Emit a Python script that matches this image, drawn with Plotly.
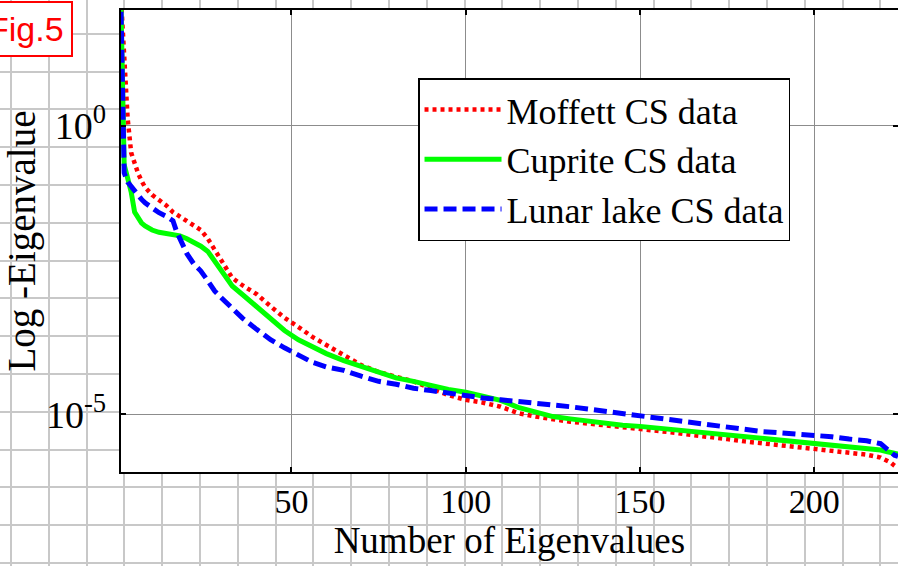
import plotly.graph_objects as go

# ---- data (y values given as log10 of eigenvalue) ----
eig_index = [1, 2, 3, 4, 5, 6, 7, 8, 10, 12, 14, 16, 17, 18, 20, 22, 24, 26, 28, 30,
             33, 36, 40, 44, 48, 52, 56, 60, 65, 70, 75, 80, 85, 90, 95, 100,
             105, 110, 115, 120, 125, 130, 135, 140, 145, 150, 155, 160, 165, 170,
             175, 180, 185, 190, 195, 200, 205, 210, 215, 219, 221, 222, 223, 224]

moffett_log10 = [2.3, 1.0, 0.12, -0.47, -0.66, -0.83, -0.96, -1.07, -1.20, -1.29, -1.38, -1.50, -1.54, -1.58,
                 -1.65, -1.72, -1.81, -1.96, -2.16, -2.36, -2.64, -2.77, -2.92, -3.13, -3.33, -3.49,
                 -3.66, -3.80, -3.98, -4.15, -4.27, -4.35, -4.43, -4.55, -4.67, -4.75,
                 -4.80, -4.87, -4.98, -5.04, -5.09, -5.13, -5.16, -5.19, -5.22, -5.25, -5.28,
                 -5.32, -5.36, -5.39, -5.43, -5.47, -5.50, -5.53, -5.56, -5.60, -5.63, -5.67,
                 -5.70, -5.75, -5.80, -5.84, -5.89, -5.93]

cuprite_log10 = [2.3, -0.68, -0.91, -1.15, -1.50, -1.60, -1.69, -1.74, -1.81, -1.85, -1.87, -1.89, -1.90, -1.91,
                 -1.96, -2.02, -2.09, -2.18, -2.35, -2.54, -2.78, -2.93, -3.13, -3.33, -3.55, -3.71,
                 -3.84, -3.95, -4.07, -4.17, -4.28, -4.37, -4.43, -4.51, -4.57, -4.62,
                 -4.68, -4.76, -4.88, -4.97, -5.04, -5.08, -5.12, -5.16, -5.19, -5.21, -5.24,
                 -5.27, -5.31, -5.34, -5.37, -5.40, -5.43, -5.46, -5.49, -5.52, -5.54, -5.57,
                 -5.59, -5.62, -5.65, -5.66, -5.68, -5.69]

lunar_log10 = [2.3, -0.82, -0.98, -1.06, -1.15, -1.22, -1.28, -1.34, -1.43, -1.51, -1.57, -1.65, -1.83, -1.97,
               -2.22, -2.40, -2.52, -2.69, -2.87, -2.99, -3.18, -3.34, -3.53, -3.71, -3.85, -3.97,
               -4.10, -4.18, -4.24, -4.34, -4.43, -4.48, -4.55, -4.59, -4.64, -4.69,
               -4.72, -4.75, -4.78, -4.80, -4.82, -4.87, -4.91, -4.95, -4.98, -5.03, -5.07,
               -5.11, -5.16, -5.20, -5.24, -5.26, -5.30, -5.32, -5.34, -5.36, -5.39, -5.43,
               -5.46, -5.51, -5.62, -5.67, -5.71, -5.73]

series_names = ["Moffett CS data", "Cuprite CS data", "Lunar lake CS data"]
x_tick_vals = [50, 100, 150, 200]
y_tick_vals = [1, 1e-5]
y_tick_text = ["10<sup>0</sup>", "10<sup>-5</sup>"]

SERIF = "Liberation Serif"

fig = go.Figure()

# background graph-paper subplot (x / y), drawn underneath the chart
fig.add_trace(go.Scatter(x=[], y=[], xaxis="x", yaxis="y", showlegend=False, hoverinfo="skip"))

styles = [
    dict(color="#ff0000", width=4.5, dash="4px,4px"),
    dict(color="#00ff00", width=5, dash="solid"),
    dict(color="#0000ff", width=5, dash="13px,6px"),
]
for name, logs, st in zip(series_names, [moffett_log10, cuprite_log10, lunar_log10], styles):
    fig.add_trace(go.Scatter(
        x=eig_index, y=[10 ** v for v in logs], mode="lines", name=name,
        line=st, xaxis="x2", yaxis="y2",
    ))

fig.update_layout(
    width=898, height=566,
    margin=dict(l=0, r=0, t=0, b=0),
    paper_bgcolor="white", plot_bgcolor="white",
    xaxis=dict(domain=[0, 1], range=[0, 898], anchor="y", showgrid=True, gridcolor="#c8c8c8",
               gridwidth=2, tick0=11, dtick=37.8, showticklabels=False, zeroline=False,
               showline=False, ticks="", fixedrange=True, automargin=False),
    yaxis=dict(domain=[0, 1], range=[0, 566], anchor="x", showgrid=True, gridcolor="#c8c8c8",
               gridwidth=2, tick0=3, dtick=37.8, showticklabels=False, zeroline=False,
               showline=False, ticks="", fixedrange=True, automargin=False),
    xaxis2=dict(domain=[0.1344, 1.0], anchor="y2", range=[1, 224],
                tickmode="array", tickvals=x_tick_vals,
                ticks="inside", ticklen=5, tickwidth=1.5, tickcolor="black",
                showline=True, linecolor="black", linewidth=2, mirror="ticks",
                showgrid=True, gridcolor="#8c8c8c", gridwidth=1, zeroline=False,
                tickfont=dict(family=SERIF, size=34, color="black"),
                ticklabelstandoff=-2,
                title=dict(text="Number of Eigenvalues", font=dict(family=SERIF, size=37, color="black"),
                           standoff=3),
                automargin=False),
    yaxis2=dict(domain=[0.1661, 0.9823], anchor="x2", type="log", range=[-6, 2],
                tickmode="array", tickvals=y_tick_vals, ticktext=y_tick_text,
                ticks="inside", ticklen=5, tickwidth=1.5, tickcolor="black",
                showline=True, linecolor="black", linewidth=2, mirror="ticks",
                showgrid=True, gridcolor="#8c8c8c", gridwidth=1, zeroline=False,
                tickfont=dict(family=SERIF, size=38, color="black"),
                ticklabelstandoff=5,
                title=dict(text="Log -Eigenvalue", font=dict(family=SERIF, size=39, color="black"),
                           standoff=19),
                automargin=False),
    legend=dict(x=0.4655, y=0.862, xanchor="left", yanchor="top",
                bgcolor="white", bordercolor="black", borderwidth=1.5,
                font=dict(family=SERIF, size=36, color="black"),
                itemwidth=77, tracegroupgap=0),
    annotations=[dict(text="Fig.5", xref="paper", yref="paper", x=0.029, y=0.9496,
                      xanchor="center", yanchor="middle", showarrow=False,
                      font=dict(family="Liberation Sans", size=34, color="red"),
                      bgcolor="white", bordercolor="red", borderwidth=2, borderpad=7)],
)

fig.write_html("out.html")
